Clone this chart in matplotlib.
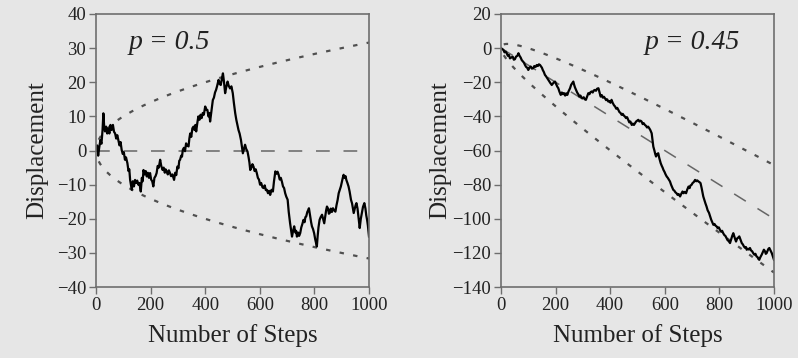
import numpy as np
import matplotlib.pyplot as plt

plt.rcParams['font.family'] = ['Liberation Serif', 'DejaVu Serif']

# random walk, p = 0.5: (step number, displacement)
walk_a = [
    (0, 0), (4, 1.5), (8, -1.5), (12, 1), (16, 3), (20, 2), (24, 6), (27, 10.9),
    (30, 7), (33, 5.6), (37, 7), (41, 5), (45, 6.5), (49, 5), (53, 7.5), (57, 6),
    (62, 7.5), (66, 5.5), (70, 5), (74, 3.5), (78, 4.5), (82, 3), (86, 1.5),
    (90, 2.5), (94, 0.2), (98, -1), (102, -0.5), (106, -2.7), (110, -2),
    (115, -3.7), (119, -6), (122, -5.5), (125, -8.6), (128, -10), (131, -11.5),
    (135, -9), (139, -10.5), (143, -8.6), (147, -9.5), (151, -8.8), (155, -10),
    (159, -9.5), (164, -12), (168, -8), (171, -9), (174, -5.7), (178, -7),
    (182, -6), (186, -7.6), (190, -6.5), (194, -8), (198, -6.6), (202, -8.5),
    (206, -9), (210, -10.5), (214, -8), (218, -7.5), (222, -6.6), (226, -4.5),
    (230, -5), (235, -2.7), (239, -4.5), (244, -5.7), (248, -5), (252, -6.5),
    (255, -5.5), (259, -6.1), (263, -7), (267, -5.8), (271, -6.6), (275, -7.5),
    (280, -7), (286, -8.6), (290, -6.5), (294, -7.2), (298, -4.7), (302, -5.2),
    (305, -3), (308, -2.7), (312, -1.5), (315, -1.8), (318, 0.2), (322, 0.8),
    (326, -0.2), (330, 2.1), (334, 1.5), (339, 1.2), (342, 3.5), (345, 5),
    (349, 4), (353, 6.5), (357, 7), (361, 6), (364, 7.5), (367, 5.6), (371, 8),
    (375, 10), (379, 9), (383, 10.5), (387, 9.5), (391, 11), (395, 10.5),
    (400, 12.9), (404, 12), (408, 11.9), (412, 10), (415, 11), (418, 8.5),
    (422, 11), (425, 13), (428, 14.8), (432, 15.5), (436, 17), (440, 17.8),
    (444, 19), (449, 20.7), (453, 19.5), (457, 19.2), (461, 21), (465, 22.6),
    (469, 20), (473, 16.8), (477, 18.5), (482, 20.2), (486, 19), (491, 18.2),
    (496, 18.8), (501, 16.8), (505, 14), (510, 10.9), (514, 9), (518, 7.5),
    (522, 6), (526, 5), (531, 3.1), (534, 1.5), (538, -0.8), (542, 0.5),
    (546, 1.7), (550, 0.5), (555, -0.3), (559, -2), (562, -3.5), (565, -5.7),
    (569, -5), (573, -4), (577, -4.7), (581, -6), (585, -5.5), (589, -6.6),
    (593, -8), (597, -8.5), (601, -10), (605, -9.5), (610, -10.8), (614, -11),
    (618, -10.2), (622, -11.6), (626, -11.5), (630, -12.5), (634, -11.8),
    (638, -13), (643, -11.5), (648, -12), (652, -9), (657, -6.1), (661, -6.8),
    (665, -6.2), (669, -7.1), (673, -8.5), (677, -8), (681, -9.1), (685, -10.5),
    (689, -11), (693, -12.5), (697, -13.5), (702, -14.4), (706, -18),
    (711, -21.3), (715, -23.5), (718, -25.2), (722, -23.5), (726, -22.2),
    (730, -24), (733, -23.5), (736, -25.2), (740, -24), (744, -25), (748, -24.2),
    (752, -22.5), (756, -21.5), (760, -20.3), (764, -21), (767, -19.5),
    (770, -19.3), (774, -18), (777, -17.5), (780, -16.9), (784, -19), (788, -21),
    (791, -22.2), (795, -23), (799, -24.2), (803, -26), (806, -27), (809, -28.1),
    (812, -25), (815, -22.5), (819, -20.3), (823, -19.5), (828, -18.8),
    (832, -20), (836, -21.3), (840, -19), (843, -17.5), (846, -16.4), (850, -17),
    (853, -18.5), (856, -18.3), (860, -17), (864, -18), (868, -16.9),
    (872, -17.5), (877, -17.9), (881, -16), (885, -14.5), (889, -12.5),
    (893, -11.5), (897, -10.5), (901, -9), (904, -8), (907, -7.1), (911, -8),
    (914, -7.5), (917, -8.6), (921, -9.5), (925, -10.5), (929, -12), (934, -14.4),
    (938, -15.5), (941, -17), (944, -18.3), (948, -17), (951, -16), (954, -15.4),
    (958, -17), (962, -20), (966, -22.7), (970, -20), (974, -18.3), (978, -16.5),
    (983, -15.4), (987, -17), (990, -19), (993, -20.3), (996, -22), (1000, -25.2),
]

# random walk, p = 0.45
walk_b = [
    (0, 0), (4, -0.5), (9, -1.1), (13, -2.5), (17, -2), (21, -3), (25, -4.5),
    (29, -4), (33, -6), (38, -5.5), (43, -5), (47, -6.8), (51, -6.5), (55, -5),
    (60, -4.5), (64, -3), (68, -4.5), (72, -5.5), (76, -7), (80, -7.8),
    (84, -8.5), (88, -9.9), (92, -11), (96, -11.5), (100, -12.8), (104, -11.5),
    (109, -10.8), (113, -12), (118, -11.8), (122, -10.5), (127, -11), (131, -9.9),
    (135, -10.5), (139, -9.5), (143, -9.9), (147, -10.8), (150, -11.5),
    (153, -12.8), (157, -14), (161, -15.7), (165, -16.5), (169, -17.5),
    (173, -18.6), (177, -19.5), (181, -20.5), (186, -21.6), (190, -20.8),
    (194, -20), (198, -19.6), (202, -21), (206, -22.5), (210, -23.5),
    (214, -25.5), (219, -27.4), (223, -26), (227, -27), (231, -26.4),
    (235, -27.8), (239, -26.5), (243, -27.4), (247, -25.5), (250, -24.5),
    (253, -23.5), (257, -21.5), (261, -20.5), (265, -19.6), (268, -21.5),
    (271, -23), (275, -24.5), (279, -26), (283, -27), (287, -28.4), (291, -27.8),
    (295, -29), (299, -29.4), (303, -28.8), (307, -30), (311, -30.3),
    (315, -28.5), (320, -26.4), (324, -27), (328, -25.8), (332, -25.4),
    (336, -26), (340, -24.8), (344, -24.5), (348, -25), (352, -23.8),
    (357, -23.5), (361, -26), (365, -28.4), (369, -27.5), (373, -29),
    (377, -28.5), (381, -29.4), (385, -30.5), (389, -30), (393, -31.3),
    (397, -31), (401, -32), (405, -30.3), (409, -32), (414, -33.5), (418, -34.2),
    (422, -35.5), (426, -35), (430, -36.2), (434, -37.5), (438, -38),
    (442, -39.1), (446, -38.5), (450, -39.5), (454, -40.1), (458, -41),
    (462, -40.5), (466, -42), (470, -43.5), (474, -43), (479, -45), (483, -44.2),
    (487, -45), (491, -44), (495, -43), (499, -42.5), (503, -42), (507, -43),
    (511, -42.5), (515, -43), (519, -44.5), (523, -44), (527, -45), (531, -45.5),
    (535, -46.5), (539, -46), (543, -46.9), (547, -48), (552, -49.9), (555, -54),
    (558, -57.7), (562, -60), (565, -62), (568, -63.5), (572, -62), (576, -61.6),
    (580, -64.5), (585, -67.4), (589, -69), (592, -70), (595, -71.3),
    (599, -72.5), (603, -74), (607, -75.2), (611, -76), (615, -77), (619, -78.1),
    (623, -80), (627, -81.5), (631, -83), (635, -83.5), (639, -84.5), (643, -85),
    (647, -86), (651, -85.5), (656, -86.9), (660, -85.5), (665, -84), (669, -85),
    (673, -84.2), (678, -85), (682, -83), (687, -81.1), (691, -82), (694, -80.5),
    (698, -80.1), (702, -79), (706, -78.5), (711, -77.2), (715, -78),
    (719, -77.5), (723, -78.1), (727, -78.5), (731, -79.1), (735, -82),
    (738, -84.5), (741, -86.9), (745, -89), (749, -91), (753, -92.8), (757, -95),
    (762, -96.5), (766, -98.6), (770, -100.5), (774, -102), (778, -103.5),
    (782, -103), (786, -104), (790, -104.5), (794, -105.5), (798, -105),
    (802, -106.4), (806, -107.5), (810, -107), (814, -108.4), (818, -109.5),
    (822, -110), (826, -111.3), (830, -112.5), (834, -113), (839, -114.2),
    (843, -112), (847, -110), (851, -108.4), (855, -110.5), (858, -112),
    (861, -113.3), (865, -111.5), (869, -111), (873, -110.3), (877, -112),
    (882, -114.2), (886, -115), (890, -116.2), (894, -117), (897, -116.5),
    (900, -118.1), (904, -117.5), (908, -118), (912, -117.1), (916, -118.5),
    (920, -119), (924, -120.1), (928, -121), (932, -120.5), (936, -122),
    (940, -122.5), (943, -123.5), (946, -124), (950, -122.5), (955, -121),
    (959, -119.5), (963, -118.1), (967, -119), (970, -120.5), (973, -120.1),
    (977, -118.5), (980, -117.5), (983, -117.1), (987, -118.5), (992, -120.1),
    (996, -122), (1000, -124),
]

probs = [0.5, 0.45]
labels = ['p = 0.5', 'p = 0.45']
yranges = [(-40, 40), (-140, 20)]
yticks = [np.arange(-40, 41, 10), np.arange(-140, 21, 20)]
xticks = [0, 200, 400, 600, 800, 1000]

bg = '#e6e6e6'
edge = '#6e6e6e'

fig = plt.figure(figsize=(7.98, 3.58), dpi=100, facecolor=bg)
ax1 = fig.add_axes([0.1203, 0.198, 0.3421, 0.763])
ax2 = fig.add_axes([0.6278, 0.198, 0.3421, 0.763])

walks = [walk_a, walk_b]
txt_pos = [(270, 31.5), (700, 3.5)]

for i, ax in enumerate([ax1, ax2]):
    ax.set_facecolor(bg)
    p = probs[i]
    # mean drift and +/- one standard deviation envelope
    n = np.linspace(0, 1000, 200)
    mean = n * (2 * p - 1)
    sd = 2 * np.sqrt(n * p * (1 - p))
    ax.plot(n, mean, color='#666666', lw=1.1, dashes=(9, 9))
    m = n >= 10
    ax.plot(n[m], mean[m] + sd[m], color='#505050', lw=1.6, dashes=(2, 4.2))
    ax.plot(n[m], mean[m] - sd[m], color='#505050', lw=1.6, dashes=(2, 4.2))

    s, w = zip(*walks[i])
    ax.plot(s, w, color='black', lw=1.6)

    ax.set_xlim(0, 1000)
    ax.set_ylim(*yranges[i])
    ax.set_xticks(xticks)
    ax.set_yticks(yticks[i])
    for sp in ax.spines.values():
        sp.set_color(edge)
        sp.set_linewidth(1.2)
    ax.tick_params(direction='out', length=5, width=1.0, color=edge,
                   labelsize=13.5, pad=2, labelcolor='#222222')
    ax.set_xlabel('Number of Steps', fontsize=18, color='#222222')
    ax.set_ylabel('Displacement', fontsize=18, color='#222222', va='center')
    ax.xaxis.set_label_coords(0.5, -0.135)
    ax.yaxis.set_label_coords(-0.216 if i == 0 else -0.223, 0.5)
    ax.text(txt_pos[i][0], txt_pos[i][1], labels[i], fontsize=20, style='italic',
            ha='center', va='center', color='#222222')

fig.savefig('out.png', dpi=100, facecolor=bg)
